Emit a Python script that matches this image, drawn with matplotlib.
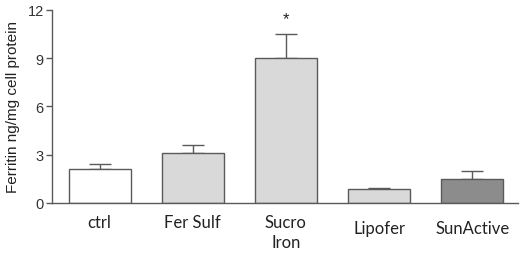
import numpy as np
import matplotlib
matplotlib.use("Agg")
import matplotlib.pyplot as plt
from matplotlib import transforms

# data
groups = ["ctrl", "Fer Sulf", "Sucro\nIron", "Lipofer", "SunActive"]
ferritin = [2.12, 3.08, 9.04, 0.85, 1.52]
sem = [0.32, 0.52, 1.46, 0.07, 0.46]
colours = ["#ffffff", "#d9d9d9", "#d9d9d9", "#d9d9d9", "#8c8c8c"]
yticks = [0, 3, 6, 9, 12]
star_group = 2
star_level = 11.45

fig = plt.figure(figsize=(5.2, 2.55), dpi=100)
ax = fig.add_axes([0.1, 0.2, 0.896, 0.757])

x = np.arange(len(groups))
edge = "#5a5a5a"
ax.bar(x, ferritin, width=0.665, color=colours, edgecolor=edge, linewidth=1.0, zorder=2)
ax.errorbar(x, ferritin, yerr=[np.zeros(len(sem)), sem], fmt="none",
            ecolor=edge, elinewidth=1.0, capsize=8, capthick=1.0, zorder=1)
ax.text(star_group, star_level, "*", ha="center", va="center", fontsize=12,
        family="Liberation Sans", color="#222222")

ax.set_xlim(-0.51, 4.49)
ax.set_ylim(0, 12)
ax.set_yticks(yticks)
ax.tick_params(axis="y", length=4, width=1, color=edge, labelsize=10.5, pad=2)
for lab in ax.get_yticklabels():
    lab.set_family("Liberation Sans")
    lab.set_color("#333333")
ax.set_xticks([])
for s in ["top", "right"]:
    ax.spines[s].set_visible(False)
for s in ["left", "bottom"]:
    ax.spines[s].set_color(edge)
    ax.spines[s].set_linewidth(1.0)

ax.set_ylabel("Ferritin ng/mg cell protein", fontsize=11, family="Liberation Sans",
              color="#222222", labelpad=5)

# category labels sit at slightly uneven heights in the original
label_y = [-0.055, -0.055, -0.055, -0.09, -0.09]
trans = transforms.blended_transform_factory(ax.transData, ax.transAxes)
for xi, name, yy in zip(x, groups, label_y):
    ax.text(xi, yy, name, transform=trans, ha="center", va="top", fontsize=12,
            family="Lato", color="#222222", linespacing=1.3)

fig.savefig("out.png", dpi=100)
